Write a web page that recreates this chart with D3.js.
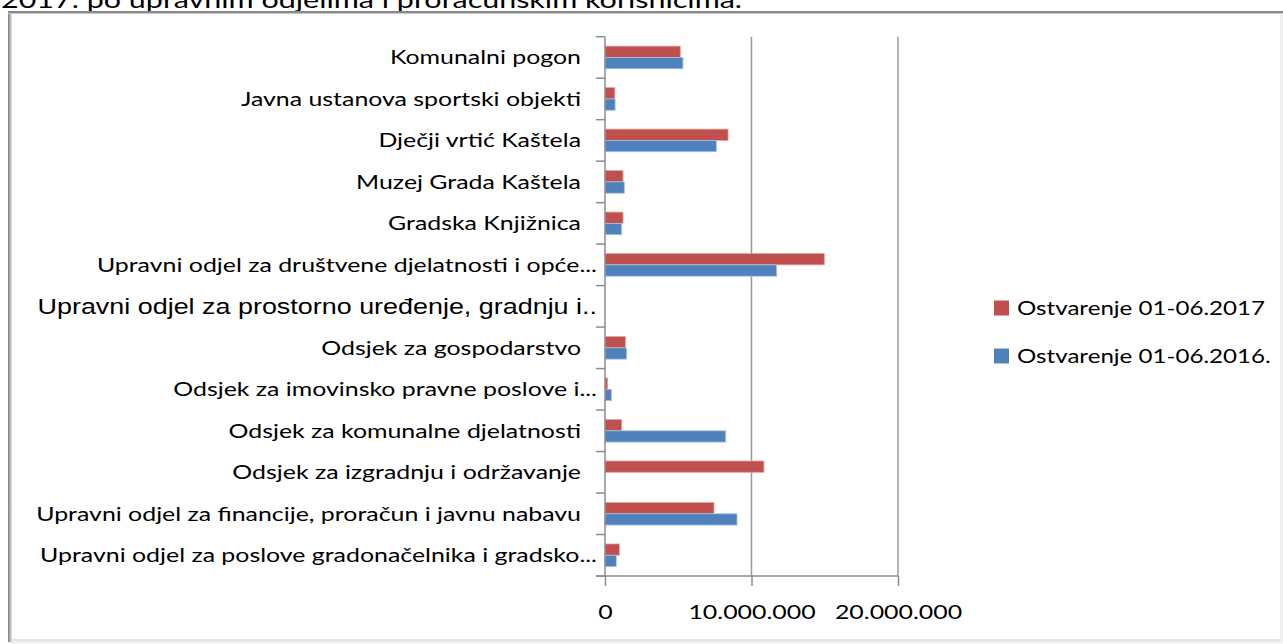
<!DOCTYPE html>
<html>
<head>
<meta charset="utf-8">
<script src="https://cdn.jsdelivr.net/npm/d3@7"></script>
<style>
  html, body { margin: 0; padding: 0; background: #fff; }
  svg { display: block; }
</style>
</head>
<body>
<svg id="chart" width="1283" height="644"></svg>
<script>
// ---- data ----
const titleText = "2017. po upravnim odjelima i proračunskim korisnicima.";
const categories = [
  "Komunalni pogon",
  "Javna ustanova sportski objekti",
  "Dječji vrtić Kaštela",
  "Muzej Grada Kaštela",
  "Gradska Knjižnica",
  "Upravni odjel za društvene djelatnosti i opće...",
  "Upravni odjel za prostorno uređenje, gradnju i..",
  "Odsjek za gospodarstvo",
  "Odsjek za imovinsko pravne poslove i...",
  "Odsjek za komunalne djelatnosti",
  "Odsjek za izgradnju i održavanje",
  "Upravni odjel za financije, proračun i javnu nabavu",
  "Upravni odjel za poslove gradonačelnika i gradsko..."
];
const seriesNames = ["Ostvarenje 01-06.2017", "Ostvarenje 01-06.2016."];
const values2017 = [5140000, 670000, 8400000, 1230000, 1230000, 14970000, 0, 1390000, 180000, 1140000, 10850000, 7440000, 980000];
const values2016 = [5320000, 690000, 7600000, 1320000, 1140000, 11720000, 0, 1480000, 430000, 8240000, 0, 9010000, 770000];
const xTicks = [0, 10000000, 20000000];
const colors = ["#C0504D", "#4F81BD"];

// ---- layout ----
const svg = d3.select("#chart");
const SX = 1.27;        // horizontal stretch of the original picture
const plot = { left: 605, right: 898, top: 36.7, bottom: 576 };
const FONT = "Lato, 'Open Sans', sans-serif";

function stretchedText(parent, x, y, str, anchor, font, size, fill) {
  const g = parent.append("g").attr("transform", `translate(${x},${y}) scale(${SX},1)`);
  g.append("text")
    .attr("text-anchor", anchor)
    .attr("font-family", font)
    .attr("font-size", size)
    .attr("fill", fill || "#000")
    .text(str);
  return g;
}

// document title (clipped by chart frame)
stretchedText(svg, 1, 8, titleText, "start", FONT, 24, "#000");

// chart frame with shadow
const defs = svg.append("defs");
const lg = defs.append("linearGradient").attr("id", "shadowL").attr("x1", 0).attr("x2", 1);
lg.append("stop").attr("offset", 0).attr("stop-color", "#7f7f7f");
lg.append("stop").attr("offset", 1).attr("stop-color", "#e6e6e6");
const bg = defs.append("linearGradient").attr("id", "shadowB").attr("x1", 0).attr("x2", 0).attr("y1", 0).attr("y2", 1);
bg.append("stop").attr("offset", 0).attr("stop-color", "#e0e0e0");
bg.append("stop").attr("offset", 1).attr("stop-color", "#f8f8f8");

svg.append("rect").attr("x", 9).attr("y", 12).attr("width", 1274).attr("height", 632).attr("fill", "#fff");
svg.append("rect").attr("x", 9).attr("y", 639).attr("width", 1274).attr("height", 5).attr("fill", "url(#shadowB)");
svg.append("rect").attr("x", 8).attr("y", 12).attr("width", 4).attr("height", 630).attr("fill", "url(#shadowL)");
svg.append("rect").attr("x", 8).attr("y", 11).attr("width", 1275).attr("height", 2).attr("fill", "#8a8a8a");
svg.append("rect").attr("x", 8).attr("y", 13).attr("width", 1275).attr("height", 1).attr("fill", "#c8c8c8");
svg.append("rect").attr("x", 1280).attr("y", 14).attr("width", 3).attr("height", 628).attr("fill", "#f0f0f0");

// ---- scales ----
const x = d3.scaleLinear().domain([0, 20000000]).range([plot.left, plot.right]);
const y = d3.scaleBand().domain(categories).range([plot.top, plot.bottom]).paddingInner(0).paddingOuter(0);
const ys = d3.scaleBand().domain(seriesNames).range([0, y.bandwidth()]).paddingInner(0).paddingOuter(0.835);

// gridlines
svg.append("g").selectAll("line").data(xTicks.filter(d => d > 0)).join("line")
  .attr("x1", d => x(d)).attr("x2", d => x(d))
  .attr("y1", plot.top).attr("y2", plot.bottom)
  .attr("stroke", "#989898").attr("stroke-width", 1.5);

// bars
const rows = categories.map((c, i) => ({ c, v: [values2017[i], values2016[i]] }));
const gRows = svg.append("g").selectAll("g").data(rows).join("g")
  .attr("transform", d => `translate(0,${y(d.c)})`);
gRows.selectAll("rect").data(d => d.v.map((v, k) => ({ v, k })).filter(e => e.v > 0)).join("rect")
  .attr("x", x(0))
  .attr("y", e => ys(seriesNames[e.k]))
  .attr("width", e => x(e.v) - x(0))
  .attr("height", ys.bandwidth())
  .attr("fill", e => colors[e.k])
  .attr("stroke", e => e.k === 0 ? "#e5a3a1" : "#a9c3e3")
  .attr("stroke-width", 0.8);

// category axis
const fmt = d3.formatLocale({ decimal: ",", thousands: ".", grouping: [3], currency: ["", ""] }).format(",d");
const axisG = svg.append("g").attr("stroke", "#8c8c8c").attr("stroke-width", 1.5);
axisG.append("line").attr("x1", plot.left).attr("x2", plot.left).attr("y1", plot.top).attr("y2", plot.bottom);
const bounds = categories.map(c => y(c)).concat([plot.bottom]);
axisG.selectAll("line.tk").data(bounds).join("line").attr("class", "tk")
  .attr("x1", plot.left - 9).attr("x2", plot.left).attr("y1", d => d).attr("y2", d => d);

// value axis
const xAxis = d3.axisBottom(x).tickValues(xTicks).tickFormat(fmt).tickSize(10).tickSizeOuter(0);
const xg = svg.append("g").attr("transform", `translate(0,${plot.bottom})`).call(xAxis);
xg.select(".domain").attr("stroke", "#8c8c8c").attr("stroke-width", 1.5)
  .attr("d", `M${plot.left - 9},0H${plot.right}`);
xg.selectAll(".tick line").attr("stroke", "#8c8c8c").attr("stroke-width", 1.5);
xg.selectAll(".tick text").remove();
xg.selectAll(".tick").each(function (d) {
  stretchedText(d3.select(this), 0, 43, fmt(d), "middle", FONT, 19.6, "#000");
});

// category labels
categories.forEach(c => {
  const trunc = /\.\.$/.test(c);
  const isArial = c.startsWith("Upravni odjel za prostorno");
  const cy = y(c) + y.bandwidth() / 2;
  if (isArial) {
    stretchedText(svg, 597, cy + 7.5, c, "end", "'Liberation Sans', Arial, sans-serif", 21.2, "#000");
  } else {
    stretchedText(svg, trunc ? 597 : 581, cy + 7, c, "end", FONT, 19.6, "#000");
  }
});

// legend
const legend = svg.append("g");
seriesNames.forEach((s, k) => {
  const ly = 308 + k * 48;
  legend.append("rect").attr("x", 994).attr("y", ly - 7.5).attr("width", 15).attr("height", 15).attr("fill", colors[k]);
  stretchedText(legend, 1017, ly + 7, s, "start", FONT, 19, "#000");
});
</script>
</body>
</html>
